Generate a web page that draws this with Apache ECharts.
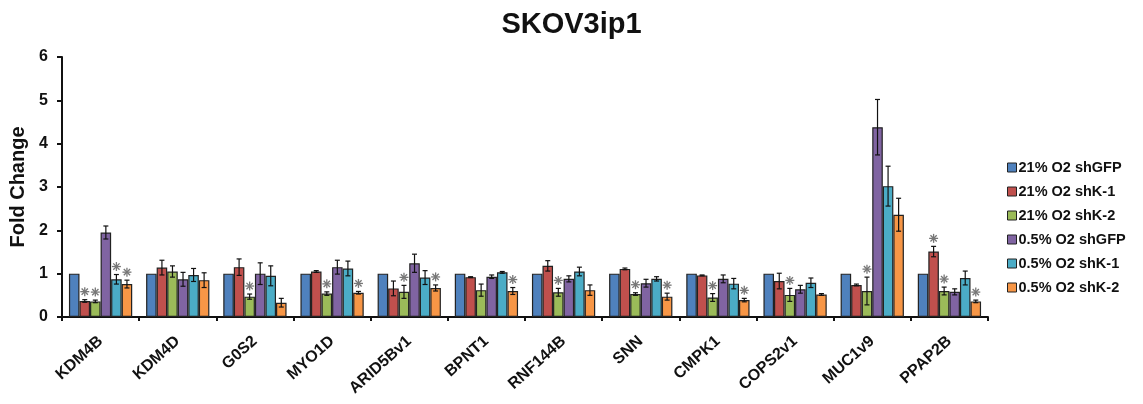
<!DOCTYPE html>
<html>
<head>
    <meta charset="utf-8">
    <title>SKOV3ip1</title>
    <script src="https://cdn.jsdelivr.net/npm/echarts@6/dist/echarts.min.js"></script>
    <style>
        html, body { margin: 0; padding: 0; background: #fff; }
        #chart1 { width: 1143px; height: 404px; }
    </style>
</head>
<body>
<div id="chart1"></div>
<script>
    // 基因名
    var genes = ['KDM4B', 'KDM4D', 'G0S2', 'MYO1D', 'ARID5Bv1', 'BPNT1', 'RNF144B', 'SNN', 'CMPK1', 'COPS2v1', 'MUC1v9', 'PPAP2B'];
    var seriesNames = ['21% O2 shGFP', '21% O2 shK-1', '21% O2 shK-2', '0.5% O2 shGFP', '0.5% O2 shK-1', '0.5% O2 shK-2'];
    var colors = ['#4F81BD', '#C0504D', '#9BBB59', '#8064A2', '#4BACC6', '#F79646'];

    // 柱高 (fold change)
    var o21GFP = [1, 1, 1, 1, 1, 1, 1, 1, 1, 1, 1, 1];
    var o21K1 = [0.37, 1.14, 1.15, 1.05, 0.66, 0.92, 1.18, 1.11, 0.96, 0.83, 0.74, 1.51];
    var o21K2 = [0.36, 1.05, 0.47, 0.54, 0.58, 0.62, 0.57, 0.53, 0.45, 0.51, 0.60, 0.60];
    var o05GFP = [1.95, 0.87, 1.00, 1.15, 1.24, 0.93, 0.88, 0.78, 0.88, 0.64, 4.38, 0.58];
    var o05K1 = [0.87, 0.97, 0.95, 1.12, 0.91, 1.03, 1.05, 0.88, 0.77, 0.79, 3.02, 0.90];
    var o05K2 = [0.76, 0.85, 0.33, 0.56, 0.67, 0.60, 0.62, 0.47, 0.39, 0.52, 2.36, 0.36];

    // 误差
    var e21GFP = [0, 0, 0, 0, 0, 0, 0, 0, 0, 0, 0, 0];
    var e21K1 = [0.03, 0.17, 0.19, 0.02, 0.17, 0.01, 0.12, 0.02, 0.01, 0.18, 0.02, 0.12];
    var e21K2 = [0.03, 0.13, 0.06, 0.04, 0.15, 0.14, 0.09, 0.03, 0.09, 0.15, 0.32, 0.09];
    var e05GFP = [0.15, 0.16, 0.25, 0.16, 0.21, 0.04, 0.07, 0.09, 0.09, 0.09, 0.64, 0.07];
    var e05K1 = [0.11, 0.15, 0.23, 0.17, 0.16, 0.02, 0.10, 0.05, 0.12, 0.11, 0.46, 0.16];
    var e05K2 = [0.09, 0.17, 0.10, 0.03, 0.07, 0.08, 0.12, 0.08, 0.04, 0.02, 0.38, 0.03];

    // 显著性星号 (1 = 有)
    var s21GFP = [0, 0, 0, 0, 0, 0, 0, 0, 0, 0, 0, 0];
    var s21K1 = [1, 0, 0, 0, 0, 0, 0, 0, 0, 0, 0, 1];
    var s21K2 = [1, 0, 1, 1, 1, 0, 1, 1, 1, 1, 1, 1];
    var s05GFP = [0, 0, 0, 0, 0, 0, 0, 0, 0, 0, 0, 0];
    var s05K1 = [1, 0, 0, 0, 0, 0, 0, 0, 0, 0, 0, 0];
    var s05K2 = [1, 0, 0, 1, 1, 1, 0, 1, 1, 0, 0, 1];

    var values = [o21GFP, o21K1, o21K2, o05GFP, o05K1, o05K2];
    var errors = [e21GFP, e21K1, e21K2, e05GFP, e05K1, e05K2];
    var stars = [s21GFP, s21K1, s21K2, s05GFP, s05K1, s05K2];

    var catGap = 0.18;
    var font = 'Liberation Sans';

    var myChart = echarts.init(document.getElementById('chart1'));

    var series = [];
    for (var i = 0; i < 6; i++) {
        series.push({
            name: seriesNames[i],
            type: 'bar',
            data: values[i],
            barGap: '0%',
            barCategoryGap: (catGap * 100) + '%',
            itemStyle: { color: colors[i], borderColor: '#222', borderWidth: 1.2 },
            z: 2
        });
    }

    // 误差线 + 星号
    series.push({
        type: 'custom',
        name: 'err',
        z: 5,
        silent: true,
        data: genes.map(function (g, k) { return [k]; }),
        encode: { x: 0 },
        renderItem: function (params, api) {
            var k = api.value(0);
            var base = api.coord([k, 0]);
            var band = api.size([1, 0])[0];
            var groupW = band * (1 - catGap);
            var barW = groupW / 6;
            var children = [];
            for (var i = 0; i < 6; i++) {
                var cx = base[0] - groupW / 2 + barW * (i + 0.5);
                var v = values[i][k], e = errors[i][k];
                var top = api.coord([k, v + e])[1];
                var bot = api.coord([k, v - e])[1];
                var st = { stroke: '#111', lineWidth: 1.2 };
                if (e > 0) {
                    children.push({ type: 'line', shape: { x1: cx, y1: top, x2: cx, y2: bot }, style: st });
                    children.push({ type: 'line', shape: { x1: cx - 2.5, y1: top, x2: cx + 2.5, y2: top }, style: st });
                    children.push({ type: 'line', shape: { x1: cx - 2.5, y1: bot, x2: cx + 2.5, y2: bot }, style: st });
                }
                if (stars[i][k]) {
                    var sy = top - 8, r = 4.5;
                    var ss = { stroke: '#777', lineWidth: 1.3 };
                    children.push({ type: 'line', shape: { x1: cx - r, y1: sy, x2: cx + r, y2: sy }, style: ss });
                    children.push({ type: 'line', shape: { x1: cx, y1: sy - r, x2: cx, y2: sy + r }, style: ss });
                    children.push({ type: 'line', shape: { x1: cx - r * 0.7, y1: sy - r * 0.7, x2: cx + r * 0.7, y2: sy + r * 0.7 }, style: ss });
                    children.push({ type: 'line', shape: { x1: cx - r * 0.7, y1: sy + r * 0.7, x2: cx + r * 0.7, y2: sy - r * 0.7 }, style: ss });
                }
            }
            return { type: 'group', children: children };
        }
    });

    var option = {
        animation: false,
        color: colors,
        title: {
            text: 'SKOV3ip1',
            left: 'center',
            top: 5,
            textStyle: { fontFamily: font, fontSize: 29, fontWeight: 'bold', color: '#111' }
        },
        legend: {
            data: seriesNames,
            orient: 'vertical',
            left: 1002,
            top: 155,
            itemWidth: 9,
            itemHeight: 9,
            itemGap: 9,
            icon: 'rect',
            itemStyle: { borderColor: '#222', borderWidth: 1 },
            textStyle: { fontFamily: font, fontSize: 14.5, fontWeight: 'bold', color: '#111', padding: [0, 0, 0, -3] }
        },
        grid: { left: 62, right: 155, top: 57, bottom: 87 },
        xAxis: {
            type: 'category',
            data: genes,
            axisLine: { lineStyle: { color: '#111', width: 2 } },
            axisTick: { show: true, length: 4, lineStyle: { color: '#111', width: 2 } },
            axisLabel: {
                rotate: 42,
                margin: 22,
                interval: 0,
                fontFamily: font,
                fontSize: 16,
                fontWeight: 'bold',
                color: '#111'
            }
        },
        yAxis: {
            type: 'value',
            min: 0,
            max: 6,
            interval: 1,
            name: 'Fold Change',
            nameLocation: 'middle',
            nameGap: 26,
            nameTextStyle: { fontFamily: font, fontSize: 20, fontWeight: 'bold', color: '#111' },
            splitLine: { show: false },
            axisLine: { show: true, lineStyle: { color: '#111', width: 2 } },
            axisTick: { show: true, inside: false, length: 5, lineStyle: { color: '#111', width: 2 } },
            axisLabel: { margin: 14, fontFamily: font, fontSize: 16, fontWeight: 'bold', color: '#111' }
        },
        series: series
    };

    myChart.setOption(option);
</script>
</body>
</html>
